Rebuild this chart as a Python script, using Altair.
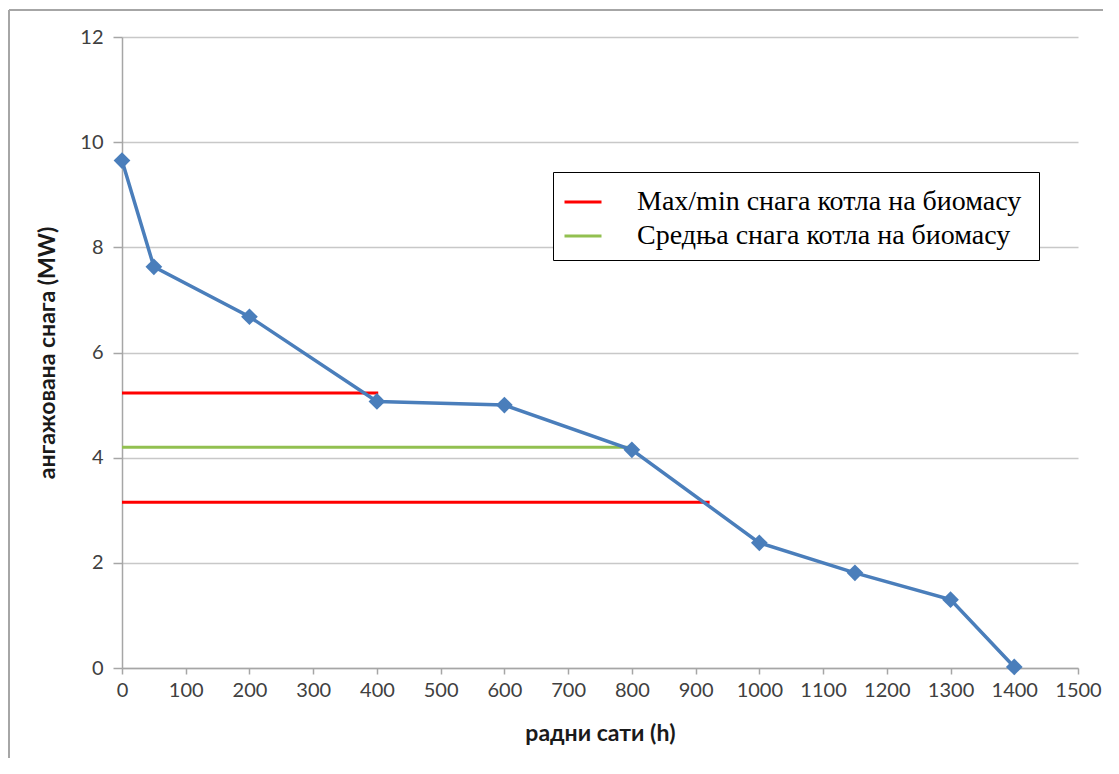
import altair as alt
import pandas as pd

# Blue curve (working hours vs engaged power)
hours = [0, 50, 200, 400, 600, 800, 1000, 1150, 1300, 1400]
power = [9.65, 7.63, 6.68, 5.07, 5.0, 4.15, 2.38, 1.81, 1.3, 0.02]

# Reference lines
ref_series = ["Max/min  снага котла на биомасу", "Max/min  снага котла на биомасу",
              "Средња снага котла на биомасу"]
ref_y = [5.23, 3.15, 4.2]
ref_x_end = [402, 922, 800]
ref_x_start = [0, 0, 0]

legend_order = ["Max/min  снага котла на биомасу", "Средња снага котла на биомасу"]
legend_colors = ["#ff0000", "#92c050"]

x_ticks = list(range(0, 1501, 100))
y_ticks = [0, 2, 4, 6, 8, 10, 12]

curve = pd.DataFrame({"h": hours, "p": power})
refs = pd.DataFrame({"s": ref_series, "y": ref_y, "x0": ref_x_start, "x1": ref_x_end})

W, H = 956, 631

x_scale = alt.Scale(domain=[0, 1500], nice=False)
y_scale = alt.Scale(domain=[0, 12], nice=False)

x_axis = alt.Axis(values=x_ticks, title="радни сати (h)", grid=False, format="d",
                  labelOverlap=False, labelFlush=False,
                  tickSize=6, labelPadding=6, titlePadding=22)
y_axis = alt.Axis(values=y_ticks, title="ангажована снага (MW)", grid=True, format="d",
                  labelOverlap=False, labelFlush=False,
                  tickSize=9, labelPadding=10, titlePadding=20)

base_lines = alt.Chart(refs).mark_rule(strokeWidth=3).encode(
    x=alt.X("x0:Q", scale=x_scale, axis=x_axis),
    x2="x1:Q",
    y=alt.Y("y:Q", scale=y_scale, axis=y_axis),
    color=alt.Color("s:N", sort=legend_order,
                    scale=alt.Scale(domain=legend_order, range=legend_colors),
                    legend=alt.Legend(title=None, orient="none", legendX=431, legendY=135,
                                      symbolType="stroke", symbolSize=1369,
                                      symbolStrokeWidth=3, labelFont="Liberation Serif",
                                      labelFontSize=28, labelColor="#000000",
                                      labelOffset=34, rowPadding=0, padding=10,
                                      strokeColor="#000000", fillColor="white",
                                      labelLimit=700)),
)

line = alt.Chart(curve).mark_line(color="#4a7ebb", strokeWidth=3.5).encode(
    x=alt.X("h:Q", scale=x_scale),
    y=alt.Y("p:Q", scale=y_scale),
)
pts = alt.Chart(curve).mark_point(shape="diamond", filled=True, size=280,
                                  color="#4a7ebb", opacity=1).encode(
    x=alt.X("h:Q", scale=x_scale),
    y=alt.Y("p:Q", scale=y_scale),
)

frame_src = pd.DataFrame({"k": [0]})
frame_top = alt.Chart(frame_src).mark_rule(color="#a6a6a6", strokeWidth=2).encode(
    x=alt.value(-113), x2=alt.value(990), y=alt.value(-27))
frame_left = alt.Chart(frame_src).mark_rule(color="#a6a6a6", strokeWidth=2).encode(
    x=alt.value(-113), y=alt.value(-27), y2=alt.value(721))

chart = alt.layer(frame_top, frame_left, base_lines, line, pts).properties(
    width=W, height=H,
    autosize=alt.AutoSizeParams(type="none"),
    padding={"left": 114, "top": 29, "right": 25, "bottom": 90},
    background="white",
).configure_view(stroke=None).configure_axis(
    labelFont="Lato", labelFontSize=20, labelColor="#404040",
    titleFont="Lato", titleFontSize=23, titleFontWeight="bold", titleColor="#1a1a1a",
    domainColor="#a6a6a6", tickColor="#a6a6a6", gridColor="#c8c8c8",
    domainWidth=1.5, gridWidth=1.5, tickWidth=1.5,
)

chart.save("out.html", embed_options={"renderer": "svg", "actions": False})
